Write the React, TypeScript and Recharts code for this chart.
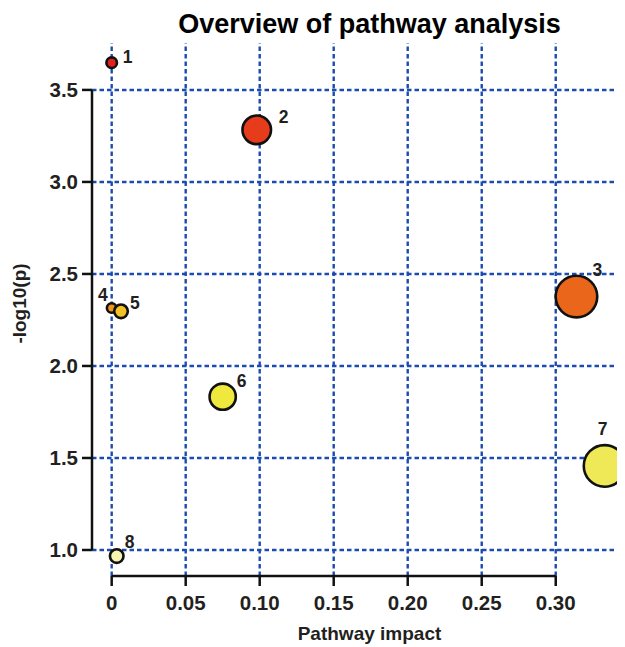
import React from 'react';
import {
  ScatterChart,
  Scatter,
  XAxis,
  YAxis,
  ZAxis,
  ReferenceLine,
  Label,
} from 'recharts';

// pathway numbers, impact (x), -log10(p) (y), bubble size (z)
const PATHWAY_IDS = ['1', '2', '3', '4', '5', '6', '7', '8'];
const IMPACT = [0.0, 0.098, 0.314, 0.0, 0.0063, 0.075, 0.333, 0.0034];
const LOG_P = [3.648, 3.283, 2.377, 2.315, 2.297, 1.833, 1.457, 0.967];
const BUBBLE_SIZE = [42, 240, 484, 36, 64, 205, 484, 64];

const X_TICKS = [0, 0.05, 0.1, 0.15, 0.2, 0.25, 0.3];
const X_TICK_LABELS = ['0', '0.05', '0.10', '0.15', '0.20', '0.25', '0.30'];
const Y_TICKS = [1.0, 1.5, 2.0, 2.5, 3.0, 3.5];

const COLORS = ['#e4201e', '#e63c1c', '#e9661a', '#f2921f', '#f5c226', '#eee93c', '#efe957', '#f8f4b2'];

// label nudges relative to bubble centre: [dx, dy, anchor]
const LABEL_NUDGE: Record<string, [number, number, string]> = {
  '1': [11, 0, 'start'],
  '2': [22, -7, 'start'],
  '3': [16, -21, 'start'],
  '4': [-4, -7, 'end'],
  '5': [9, -2, 'start'],
  '6': [14, -10, 'start'],
  '7': [-2, -31, 'middle'],
  '8': [8, -8, 'start'],
};

const X_MIN = -0.0133;
const X_MAX = 0.3468;
const Y_MIN = 0.8587;
const Y_MAX = 3.755;

const GRID = '#1d4caf';
const INK = '#231f20';
const FONT = 'Liberation Sans, Arial, sans-serif';

const data = PATHWAY_IDS.map((id, i) => ({
  id,
  x: IMPACT[i],
  y: LOG_P[i],
  z: BUBBLE_SIZE[i],
  color: COLORS[i],
}));

const Bubble = (props: any) => {
  const { cx, cy, width, payload } = props;
  const r = width / 2;
  const [dx, dy, anchor] = LABEL_NUDGE[payload.id] ?? [r, -r, 'start'];
  return (
    <g>
      <circle cx={cx} cy={cy} r={r - 1.2} fill={payload.color} stroke="#111" strokeWidth={2.6} />
      <text
        x={cx + dx}
        y={cy + dy}
        textAnchor={anchor as any}
        fontSize={17.5}
        fontWeight="bold"
        fill={INK}
        fontFamily={FONT}
      >
        {payload.id}
      </text>
    </g>
  );
};

const tickStyle = {
  fontSize: 20.5,
  fontWeight: 'bold' as const,
  fill: INK,
  fontFamily: FONT,
};

export default function App() {
  return (
    <div style={{ position: 'relative', width: 617, height: 639 }}>
      <div
        style={{
          position: 'absolute',
          left: 0,
          top: 0,
          width: 617,
          textAlign: 'center',
          paddingLeft: 106,
          boxSizing: 'border-box',
          fontFamily: FONT,
          fontWeight: 'bold',
          fontSize: 27,
          lineHeight: '30px',
          marginTop: 1,
          color: '#000',
        }}
      >
        Overview of pathway analysis
      </div>
      <ScatterChart width={617} height={639} margin={{ top: 35, right: 0, bottom: 11, left: 4 }}>
        {Y_TICKS.map((t) => (
          <ReferenceLine key={`h${t}`} y={t} stroke={GRID} strokeWidth={2.4} strokeDasharray="4.5 3" />
        ))}
        {X_TICKS.map((t) => (
          <ReferenceLine key={`v${t}`} x={t} stroke={GRID} strokeWidth={2.4} strokeDasharray="4.5 3" />
        ))}
        <XAxis
          type="number"
          dataKey="x"
          domain={[X_MIN, X_MAX]}
          ticks={X_TICKS}
          tickFormatter={(v: number) => X_TICK_LABELS[X_TICKS.indexOf(v)] ?? String(v)}
          axisLine={false}
          tickLine={{ stroke: '#111', strokeWidth: 2.5 }}
          tickSize={10}
          tickMargin={9}
          tick={tickStyle}
          height={60}
          interval={0}
          allowDataOverflow
        >
          <Label
            value="Pathway impact"
            position="insideBottom"
            offset={-4}
            dx={11}
            style={{ fontSize: 19, fontWeight: 'bold', fill: INK, fontFamily: FONT }}
          />
        </XAxis>
        <YAxis
          type="number"
          dataKey="y"
          domain={[Y_MIN, Y_MAX]}
          ticks={Y_TICKS}
          tickFormatter={(v: number) => v.toFixed(1)}
          axisLine={false}
          tickLine={{ stroke: '#111', strokeWidth: 2.5 }}
          tickSize={10}
          tickMargin={4}
          tick={tickStyle}
          width={80}
          interval={0}
          allowDataOverflow
        >
          <Label
            value="-log10(p)"
            angle={-90}
            position="insideLeft"
            offset={2}
            dx={5}
            dy={-6}
            style={{ fontSize: 19, fontWeight: 'bold', fill: INK, textAnchor: 'middle', fontFamily: FONT }}
          />
        </YAxis>
        <ZAxis type="number" dataKey="z" domain={[0, 500]} range={[0, 500 * Math.PI]} />
        <ReferenceLine
          segment={[
            { x: 0, y: Y_MIN },
            { x: 0.3, y: Y_MIN },
          ]}
          stroke="#111"
          strokeWidth={2.5}
        />
        <ReferenceLine
          segment={[
            { x: X_MIN, y: 1.0 },
            { x: X_MIN, y: 3.5 },
          ]}
          stroke="#111"
          strokeWidth={2.5}
        />
        <Scatter data={data} shape={Bubble} isAnimationActive={false} />
      </ScatterChart>
    </div>
  );
}
